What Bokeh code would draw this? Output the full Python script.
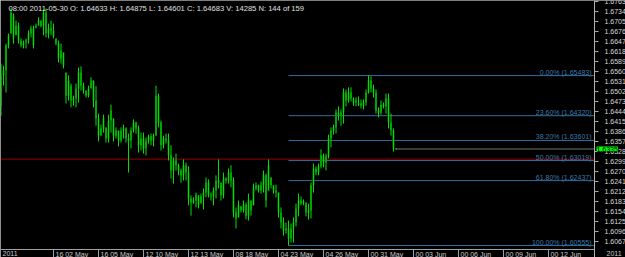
from math import pi
from bokeh.plotting import figure
from bokeh.models import Range1d, Span, Label
from bokeh.embed import file_html
from bokeh.resources import INLINE

# ---- data (4H bars) ----
opens = [
    1.6461, 1.6549, 1.6563, 1.6636, 1.6670, 1.6723, 1.6665, 1.6693, 1.6650, 1.6636,
    1.6644, 1.6650, 1.6670, 1.6685, 1.6688, 1.6693, 1.6708, 1.6693, 1.6731, 1.6670,
    1.6685, 1.6679, 1.6656, 1.6641, 1.6598, 1.6615, 1.6557, 1.6490, 1.6519, 1.6476,
    1.6482, 1.6511, 1.6557, 1.6519, 1.6505, 1.6490, 1.6511, 1.6534, 1.6476, 1.6424,
    1.6374, 1.6395, 1.6398, 1.6366, 1.6418, 1.6424, 1.6374, 1.6389, 1.6360, 1.6389,
    1.6395, 1.6366, 1.6360, 1.6389, 1.6412, 1.6395, 1.6346, 1.6366, 1.6337, 1.6360,
    1.6372, 1.6360, 1.6374, 1.6490, 1.6412, 1.6346, 1.6366, 1.6360, 1.6317, 1.6273,
    1.6302, 1.6288, 1.6273, 1.6259, 1.6288, 1.6267, 1.6192, 1.6180, 1.6186, 1.6201,
    1.6177, 1.6198, 1.6209, 1.6238, 1.6201, 1.6198, 1.6215, 1.6244, 1.6238, 1.6201,
    1.6250, 1.6244, 1.6267, 1.6244, 1.6151, 1.6137, 1.6169, 1.6157, 1.6174, 1.6142,
    1.6186, 1.6172, 1.6221, 1.6230, 1.6215, 1.6230, 1.6259, 1.6215, 1.6253, 1.6230,
    1.6215, 1.6209, 1.6151, 1.6122, 1.6099, 1.6105, 1.6076, 1.6105, 1.6122, 1.6163,
    1.6186, 1.6177, 1.6180, 1.6151, 1.6157, 1.6230, 1.6279, 1.6267, 1.6285, 1.6317,
    1.6296, 1.6314, 1.6366, 1.6389, 1.6398, 1.6441, 1.6432, 1.6441, 1.6499, 1.6476,
    1.6499, 1.6482, 1.6470, 1.64633, 1.6467, 1.6461, 1.6470, 1.6499, 1.6534, 1.6511,
    1.6499, 1.6447, 1.6441, 1.6464, 1.6459, 1.6482, 1.6412, 1.6389, 1.6337,
]
highs = [
    1.6583, 1.6577, 1.6641, 1.6670, 1.6743, 1.6728, 1.6708, 1.6702, 1.6656, 1.6650,
    1.6656, 1.6679, 1.6693, 1.6693, 1.6699, 1.6717, 1.6708, 1.6740, 1.6743, 1.6699,
    1.6708, 1.6699, 1.6656, 1.6650, 1.6641, 1.6615, 1.6557, 1.6549, 1.6525, 1.6490,
    1.6525, 1.6572, 1.6575, 1.6528, 1.6505, 1.6519, 1.6543, 1.6534, 1.6517, 1.6438,
    1.6406, 1.6435, 1.6398, 1.6435, 1.6464, 1.6424, 1.6398, 1.6389, 1.6398, 1.6406,
    1.6398, 1.6380, 1.6398, 1.6421, 1.6415, 1.6403, 1.6383, 1.6383, 1.6369, 1.6377,
    1.6380, 1.6380, 1.6519, 1.6496, 1.6418, 1.6374, 1.6380, 1.6380, 1.6346, 1.6311,
    1.6322, 1.6293, 1.6279, 1.6305, 1.6296, 1.6285, 1.6201, 1.6195, 1.6209, 1.6201,
    1.6206, 1.6221, 1.6253, 1.6247, 1.6209, 1.6224, 1.6259, 1.6305, 1.6238, 1.6267,
    1.6253, 1.6279, 1.6288, 1.6253, 1.6166, 1.6186, 1.6169, 1.6186, 1.6180, 1.6206,
    1.6186, 1.6235, 1.6238, 1.6232, 1.6241, 1.6273, 1.6264, 1.6305, 1.6253, 1.6230,
    1.6232, 1.6209, 1.6166, 1.6137, 1.6122, 1.6128, 1.6119, 1.6137, 1.6177, 1.6206,
    1.6198, 1.6189, 1.6180, 1.6177, 1.6238, 1.6293, 1.6285, 1.6293, 1.6334, 1.6322,
    1.6322, 1.6377, 1.6398, 1.6406, 1.6450, 1.6459, 1.6450, 1.6511, 1.6508, 1.6514,
    1.6514, 1.6485, 1.6485, 1.64875, 1.6479, 1.6479, 1.6508, 1.65483, 1.6546, 1.6522,
    1.6508, 1.6456, 1.6476, 1.6470, 1.6496, 1.6496, 1.6438, 1.6395, 1.6338,
]
lows = [
    1.6432, 1.6519, 1.6499, 1.6627, 1.6670, 1.6641, 1.6665, 1.6641, 1.6630, 1.6627,
    1.6627, 1.6641, 1.6659, 1.6627, 1.6685, 1.6693, 1.6688, 1.6665, 1.6659, 1.6656,
    1.6665, 1.6656, 1.6636, 1.6586, 1.6583, 1.6569, 1.6467, 1.6476, 1.6456, 1.6461,
    1.6456, 1.6470, 1.6505, 1.6496, 1.6485, 1.6485, 1.6511, 1.6456, 1.6403, 1.6357,
    1.6374, 1.6383, 1.6354, 1.6354, 1.6383, 1.6357, 1.6366, 1.6343, 1.6354, 1.6366,
    1.6354, 1.6267, 1.6337, 1.6383, 1.6380, 1.6325, 1.6331, 1.6322, 1.6317, 1.6351,
    1.6346, 1.6343, 1.6374, 1.6398, 1.6331, 1.6337, 1.6351, 1.6302, 1.6250, 1.6235,
    1.6273, 1.6259, 1.6238, 1.6244, 1.6244, 1.6172, 1.6142, 1.6177, 1.6166, 1.6163,
    1.6177, 1.6160, 1.6195, 1.6195, 1.6186, 1.6172, 1.6192, 1.6221, 1.6186, 1.6192,
    1.6235, 1.6235, 1.6224, 1.6137, 1.6105, 1.6137, 1.6151, 1.6151, 1.6131, 1.6128,
    1.6142, 1.6172, 1.6215, 1.6209, 1.6206, 1.6209, 1.6166, 1.6215, 1.6221, 1.6206,
    1.6195, 1.6137, 1.6105, 1.6084, 1.6090, 1.60555, 1.6064, 1.6064, 1.6111, 1.6140,
    1.6172, 1.6172, 1.6140, 1.6131, 1.6134, 1.6209, 1.6259, 1.6259, 1.6279, 1.6282,
    1.6273, 1.6308, 1.6340, 1.6377, 1.6380, 1.6418, 1.6403, 1.6409, 1.6459, 1.6470,
    1.6473, 1.6461, 1.6459, 1.64601, 1.6453, 1.6450, 1.6461, 1.6496, 1.6499, 1.6485,
    1.6438, 1.6427, 1.6435, 1.6453, 1.6438, 1.6395, 1.6374, 1.6328, 1.6333,
]
closes = [
    1.6549, 1.6563, 1.6636, 1.6665, 1.6731, 1.6656, 1.6693, 1.6650, 1.6636, 1.6644,
    1.6650, 1.6670, 1.6685, 1.6636, 1.6693, 1.6708, 1.6693, 1.6731, 1.6670, 1.6685,
    1.6679, 1.6662, 1.6641, 1.6598, 1.6621, 1.6577, 1.6490, 1.6534, 1.6476, 1.6482,
    1.6511, 1.6557, 1.6519, 1.6505, 1.6490, 1.6511, 1.6534, 1.6476, 1.6424, 1.6374,
    1.6395, 1.6424, 1.6366, 1.6418, 1.6447, 1.6374, 1.6389, 1.6360, 1.6389, 1.6395,
    1.6366, 1.6360, 1.6389, 1.6412, 1.6395, 1.6346, 1.6366, 1.6337, 1.6360, 1.6372,
    1.6360, 1.6374, 1.6490, 1.6412, 1.6346, 1.6366, 1.6360, 1.6317, 1.6273, 1.6302,
    1.6288, 1.6273, 1.6259, 1.6288, 1.6267, 1.6192, 1.6180, 1.6186, 1.6201, 1.6172,
    1.6198, 1.6209, 1.6238, 1.6201, 1.6198, 1.6215, 1.6244, 1.6238, 1.6201, 1.6250,
    1.6244, 1.6267, 1.6244, 1.6151, 1.6134, 1.6172, 1.6157, 1.6174, 1.6142, 1.6186,
    1.6157, 1.6221, 1.6230, 1.6215, 1.6230, 1.6259, 1.6186, 1.6288, 1.6230, 1.6215,
    1.6209, 1.6151, 1.6122, 1.6099, 1.6105, 1.6076, 1.6105, 1.6122, 1.6163, 1.6186,
    1.6177, 1.6183, 1.6151, 1.6157, 1.6230, 1.6279, 1.6267, 1.6285, 1.6317, 1.6296,
    1.6314, 1.6366, 1.6389, 1.6398, 1.6441, 1.6432, 1.6441, 1.6499, 1.6476, 1.6499,
    1.6482, 1.6470, 1.6476, 1.64683, 1.6461, 1.6470, 1.6499, 1.6534, 1.6511, 1.6499,
    1.6447, 1.6441, 1.6464, 1.6459, 1.6482, 1.6412, 1.6389, 1.6337, 1.6335,
]

time_tick_bars = [21, 39, 57, 75, 93, 111, 129, 147, 165, 183, 201, 219]
time_tick_labels = ["16 02 May", "16 05 May", "12 10 May", "12 13 May", "08 18 May",
                    "04 23 May", "04 26 May", "00 31 May", "00 03 Jun", "00 06 Jun",
                    "00 09 Jun", "00 12 Jun"]
year_label = "2011"

price_ticks = [1.6067, 1.6096, 1.6125, 1.6154, 1.6183, 1.6212, 1.6241, 1.6270, 1.6299,
               1.6328, 1.6357, 1.6386, 1.6415, 1.6444, 1.6473, 1.6502, 1.6531, 1.6560,
               1.6589, 1.6618, 1.6647, 1.6676, 1.6705, 1.6734, 1.6763]

fib_percents = [0.0, 23.6, 38.2, 50.0, 61.8, 100.0]
fib_high = 1.65483
fib_low = 1.60555
fib_start_bar = 115
red_line_level = 1.6306

hover_bar = 143
hover_time = "08:00 2011-05-30"
hover_volume = 14285

# ---- figure: the whole canvas is the frame; price/time scales drawn as glyphs ----
FONT = {"value": "Liberation Sans"}
x_start, x_end = -0.2, 249.8          # whole canvas width
y_start, y_end = 1.60207, 1.6766      # whole canvas height
x_axis = 237.4                         # price-scale edge (bar units)
y_axis = 1.60439                       # time-scale edge (price units)

p = figure(width=625, height=257,
           x_range=Range1d(x_start, x_end), y_range=Range1d(y_start, y_end),
           output_backend="svg", toolbar_location=None,
           x_axis_location=None, y_axis_location=None,
           min_border=0, background_fill_color="black", border_fill_color="black",
           outline_line_color=None)
p.grid.visible = False

idx = list(range(len(opens)))
body_top = [max(o, c) for o, c in zip(opens, closes)]
body_bot = [min(o, c) for o, c in zip(opens, closes)]

# horizontal lines
p.segment(x0=[x_start], y0=[red_line_level], x1=[x_axis], y1=[red_line_level],
          line_color="#9a0000", line_width=1)
fib_levels = [fib_high - pc / 100.0 * (fib_high - fib_low) for pc in fib_percents]
p.segment(x0=[fib_start_bar] * len(fib_levels), y0=fib_levels,
          x1=[x_axis] * len(fib_levels), y1=fib_levels,
          line_color="#2f6d9c", line_width=1)
p.text(x=[x_axis] * len(fib_levels), y=fib_levels,
       text=["%.2f%% (%.5f)" % (pc, lv) for pc, lv in zip(fib_percents, fib_levels)],
       text_align="right", text_baseline="bottom", x_offset=-3, y_offset=0,
       text_font_size="7px", text_color="#3a78aa", text_font=FONT)
p.segment(x0=[idx[-1]], y0=[closes[-1]], x1=[x_axis], y1=[closes[-1]],
          line_color="#3a3a3a", line_width=2)

# candles
p.vbar(x=idx, width=0.8, top=body_top, bottom=body_bot,
       fill_color="#006e00", line_color=None)
p.segment(x0=idx, y0=lows, x1=idx, y1=highs, line_color="#00e000", line_width=1)

# borders
p.add_layout(Span(location=x_start, dimension="height", line_color="#a0a0a0", line_width=1))
p.segment(x0=[x_axis], y0=[y_start], x1=[x_axis], y1=[y_end], line_color="#b0b0b0", line_width=1)
p.segment(x0=[x_start], y0=[y_axis], x1=[x_axis], y1=[y_axis], line_color="#a0a0a0", line_width=1)

# price scale
p.ray(x=[x_axis] * len(price_ticks), y=price_ticks, length=4, length_units="screen",
      angle=0, line_color="#b0b0b0", line_width=1)
p.text(x=[x_axis] * len(price_ticks), y=price_ticks, text=["%.4f" % t for t in price_ticks],
       x_offset=10, text_baseline="middle", text_font_size="7px", text_color="#d8d8d8",
       text_font=FONT)

# time scale (separators + labels, plus the year at the right end under the price scale)
sep_x = [x_start] + time_tick_bars
sep_labels = [year_label] + time_tick_labels
p.ray(x=sep_x, y=[y_axis] * len(sep_x), length=8, length_units="screen", angle=-pi / 2,
      line_color="#a0a0a0", line_width=1)
lab_x = sep_x + [x_axis]
lab_text = sep_labels + [year_label]
lab_off = [2] * len(sep_x) + [12]
p.text(x=lab_x, y=[y_axis] * len(lab_x), text=lab_text, x_offset=lab_off, y_offset=1,
       text_baseline="top", text_font_size="7px", text_color="#c8c8c8", text_font=FONT)

# current price tag
p.text(x=[x_axis], y=[closes[-1]], text=["%.4f" % closes[-1]], x_offset=2,
       text_baseline="middle", text_font_size="7px", text_color="black",
       background_fill_color="#00ff00", padding=0, text_font=FONT)

# header
hdr = "%s O: %.5f H: %.5f L: %.5f C: %.5f V: %d N: %d of %d" % (
    hover_time, opens[hover_bar], highs[hover_bar], lows[hover_bar], closes[hover_bar],
    hover_volume, hover_bar + 1, len(opens))
p.add_layout(Label(x=x_start, y=y_end, x_offset=8, y_offset=-3, text=hdr,
                   text_baseline="top", text_font_size="7.6px", text_color="#e0e0e0",
                   text_font="Liberation Sans"))

open("out.html", "w").write(file_html(p, INLINE))
